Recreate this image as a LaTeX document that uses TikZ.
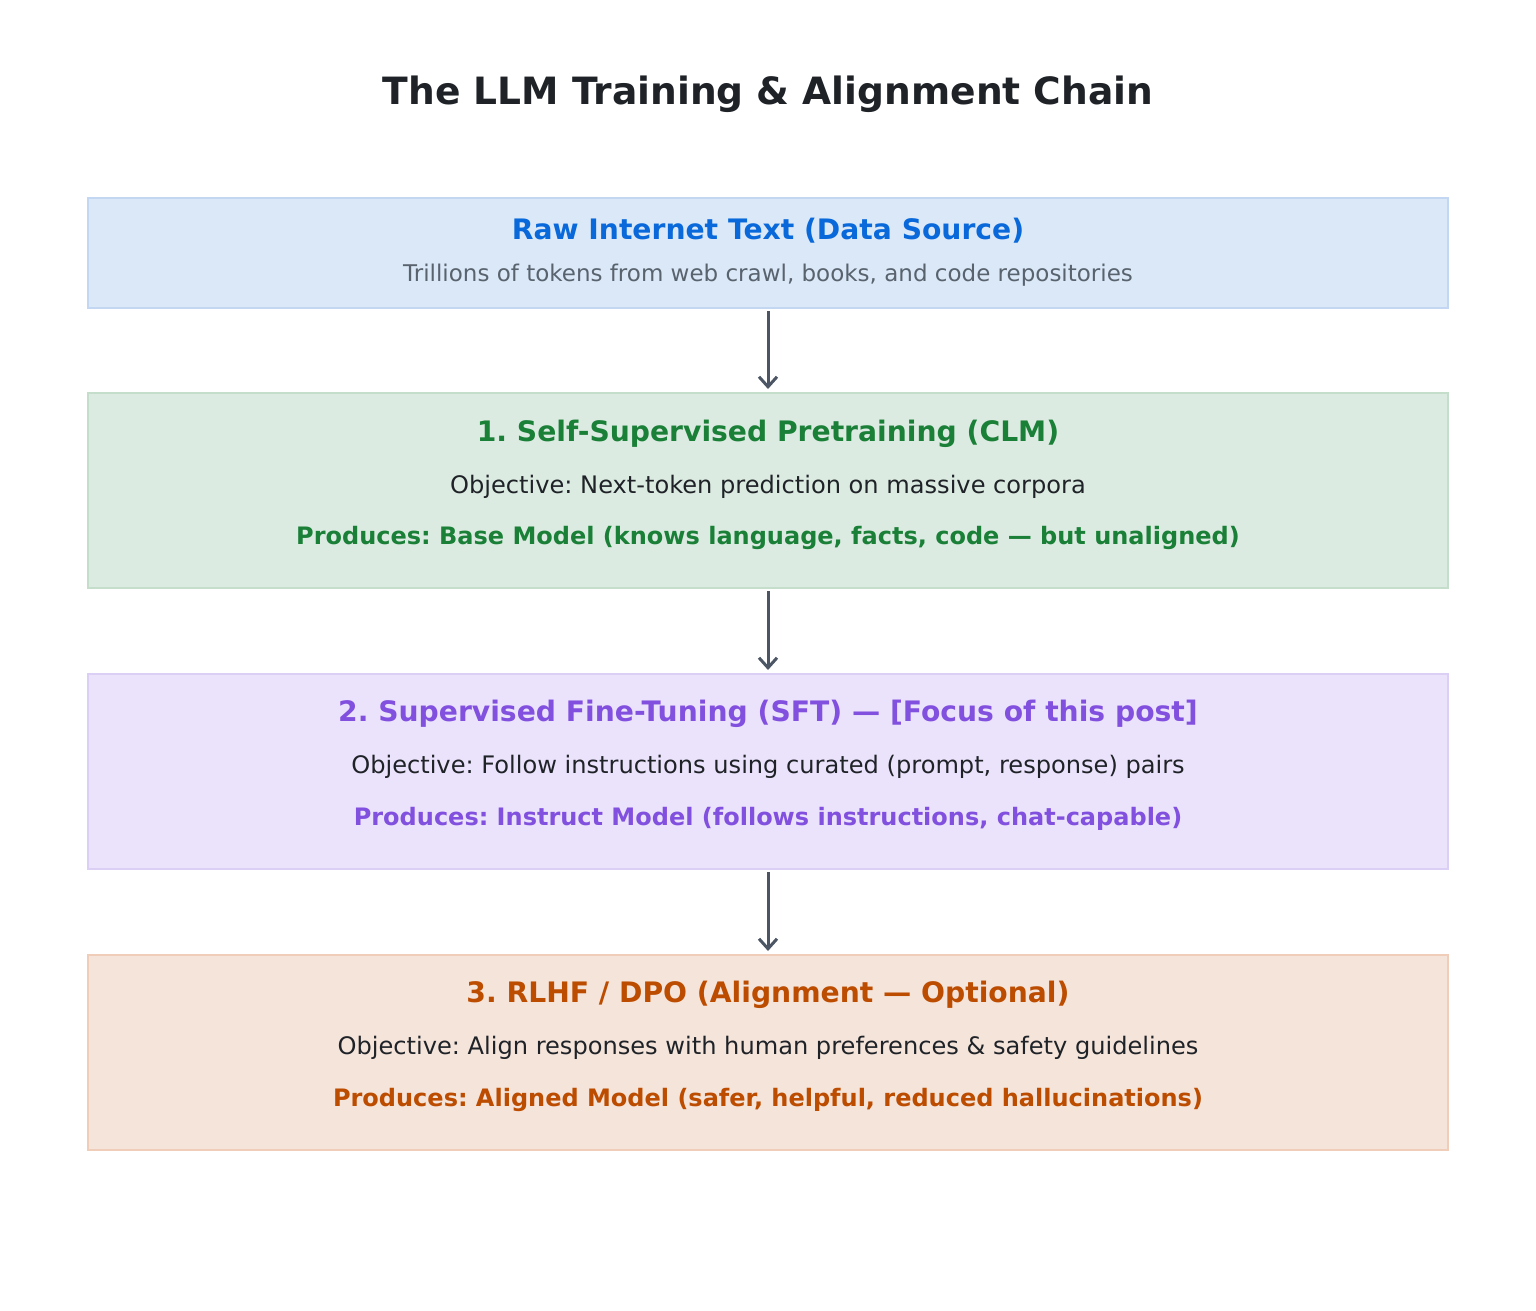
\documentclass[tikz,border=0pt]{standalone}
\usepackage{fontspec}
\setmainfont{DejaVu Sans}
\usepackage{tikz}
\usetikzlibrary{arrows.meta}
\frenchspacing

\definecolor{inkdark}{HTML}{1F2328}
\definecolor{inkgray}{HTML}{59636E}
\definecolor{arrowgray}{HTML}{4B5563}
\definecolor{rawfill}{HTML}{DBE8F8}
\definecolor{rawedge}{HTML}{C3D7F2}
\definecolor{rawink}{HTML}{0969DA}
\definecolor{prefill}{HTML}{DCEBE1}
\definecolor{preedge}{HTML}{C4DECB}
\definecolor{preink}{HTML}{1A7F37}
\definecolor{sftfill}{HTML}{EBE3FB}
\definecolor{sftedge}{HTML}{DCCFF5}
\definecolor{sftink}{HTML}{8250DF}
\definecolor{rlfill}{HTML}{F5E4DA}
\definecolor{rledge}{HTML}{EFCDB8}
\definecolor{rlink}{HTML}{BC4C00}

\tikzset{
  stage/.style={draw, line width=1pt, minimum width=680pt, inner sep=0pt},
  headline/.style={font=\fontsize{14.1}{16}\selectfont\bfseries},
  bodyline/.style={font=\fontsize{12.05}{14}\selectfont, text=inkdark},
  outline/.style={font=\fontsize{12}{14}\selectfont\bfseries},
  flow/.style={line width=1.5pt, arrowgray, -{Straight Barb[length=5pt, width=9pt]}, shorten <=1pt, shorten >=1.5pt}
}

\begin{document}
\begin{tikzpicture}[x=0.5pt, y=-0.5pt]
  \useasboundingbox (0,0) rectangle (1536,1311);

  \node[font=\fontsize{18.8}{22}\selectfont\bfseries, text=inkdark] (title) at (768,94) {The LLM Training \& Alignment Chain};

  % data source
  \node[stage, fill=rawfill, draw=rawedge, minimum height=55pt] (raw) at (768,253) {};
  \node[headline, text=rawink] (rawhead) at (768,231) {Raw Internet Text (Data Source)};
  \node[font=\fontsize{11.5}{13}\selectfont, text=inkgray] (rawsub) at (768,275) {Trillions of tokens from web crawl, books, and code repositories};

  % stage 1
  \node[stage, fill=prefill, draw=preedge, minimum height=97.5pt] (pre) at (768,490.5) {};
  \node[headline, text=preink] (prehead) at (768,434) {1. Self-Supervised Pretraining (CLM)};
  \node[bodyline] (preobj) at (768,487) {Objective: Next-token prediction on massive corpora};
  \node[outline, text=preink] (preout) at (768,538) {Produces: Base Model (knows language, facts, code — but unaligned)};

  % stage 2
  \node[stage, fill=sftfill, draw=sftedge, minimum height=97.5pt] (sft) at (768,771.5) {};
  \node[headline, text=sftink] (sfthead) at (768,714) {2. Supervised Fine-Tuning (SFT) — [Focus of this post]};
  \node[bodyline] (sftobj) at (768,767) {Objective: Follow instructions using curated (prompt, response) pairs};
  \node[outline, text=sftink] (sftout) at (768,819) {Produces: Instruct Model (follows instructions, chat-capable)};

  % stage 3
  \node[stage, fill=rlfill, draw=rledge, minimum height=97.5pt] (rl) at (768,1052.5) {};
  \node[headline, text=rlink] (rlhead) at (768,995) {3. RLHF / DPO (Alignment — Optional)};
  \node[bodyline] (rlobj) at (768,1048) {Objective: Align responses with human preferences \& safety guidelines};
  \node[outline, text=rlink] (rlout) at (768,1100) {Produces: Aligned Model (safer, helpful, reduced hallucinations)};

  % arrows
  \draw[flow] (raw.south) -- (pre.north);
  \draw[flow] (pre.south) -- (sft.north);
  \draw[flow] (sft.south) -- (rl.north);
\end{tikzpicture}
\end{document}
